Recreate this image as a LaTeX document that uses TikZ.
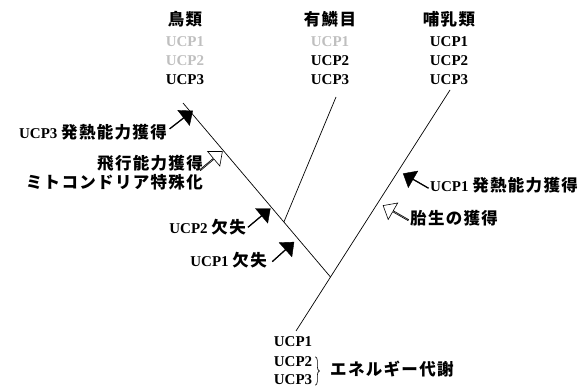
\documentclass[tikz,border=0pt]{standalone}
\usepackage{fontspec}
\setmainfont{Liberation Serif}
\newfontfamily\jpf{Noto Sans CJK JP}[LetterSpace=8]
\newcommand\Jtxt[1]{{\jpf\bfseries\fontsize{16.5}{16.5}\selectfont #1}}
\usetikzlibrary{shapes.arrows,decorations.pathreplacing,calc}
\begin{document}
\begin{tikzpicture}[x=1pt,y=-1pt,
  lbl/.style={font=\fontsize{15}{15}\selectfont\bfseries, inner sep=0pt},
  ghost/.style={lbl, text=black!25},
  jp/.style={font=\jpf\bfseries\fontsize{16.5}{16.5}\selectfont, inner sep=0pt},
  branch/.style={line width=0.7pt},
  solidarr/.style={single arrow, fill=black, draw=black, minimum height=29pt, minimum width=19pt, single arrow head extend=4.5pt, single arrow tip angle=80, inner sep=0pt},
  openarr/.style={solidarr, fill=white, line width=0.6pt}]
\useasboundingbox (0,0) rectangle (588,387);

% column headers
\node[jp] (bird) at (185,19) {鳥類};
\node[ghost] (b1) at (185,42) {UCP1};
\node[ghost] (b2) at (185,61) {UCP2};
\node[lbl] (b3) at (185,80) {UCP3};

\node[jp] (squa) at (330,19) {有鱗目};
\node[ghost] (s1) at (330,42) {UCP1};
\node[lbl] (s2) at (330,61) {UCP2};
\node[lbl] (s3) at (330,80) {UCP3};

\node[jp] (mamm) at (449,19) {哺乳類};
\node[lbl] (m1) at (449,42) {UCP1};
\node[lbl] (m2) at (449,61) {UCP2};
\node[lbl] (m3) at (449,80) {UCP3};

% tree
\coordinate (btop) at (183,103);
\coordinate (stop) at (336,97);
\coordinate (mtop) at (450,90);
\coordinate (root) at (296,331);
\coordinate (J1) at ($(mtop)!0.776!(root)$);
\coordinate (J2) at ($(btop)!0.684!(J1)$);
\draw[branch] (mtop) -- (root);
\draw[branch] (btop) -- (J1);
\draw[branch] (stop) -- (J2);

% events on bird lineage
\node[solidarr, rotate=38] (a3) at (181,120) {};
\node[lbl, anchor=east] (t3) at (167,132) {UCP3 \Jtxt{発熱能力獲得}};
\node[openarr, rotate=40] (af) at (211,161) {};
\node[jp, anchor=east] (tf) at (203,163) {飛行能力獲得};
\node[jp, anchor=east] (tm) at (203,182) {ミトコンドリア特殊化};
\node[solidarr, rotate=40] (a2) at (259,218) {};
\node[lbl, anchor=east] (t2) at (246,227) {UCP2 \Jtxt{欠失}};
\node[solidarr, rotate=42] (a1) at (283,252) {};
\node[lbl, anchor=east] (t1) at (267,260) {UCP1 \Jtxt{欠失}};

% events on mammal lineage
\node[solidarr, rotate=150] (am) at (416,181) {};
\node[lbl, anchor=west] (tm1) at (430,185) {UCP1 \Jtxt{発熱能力獲得}};
\node[openarr, rotate=150] (av) at (396,213) {};
\node[jp, anchor=west] (tv) at (410,218) {胎生の獲得};

% root
\node[lbl] (r1) at (293,342) {UCP1};
\node[lbl] (r2) at (293,362) {UCP2};
\node[lbl] (r3) at (293,380) {UCP3};
\draw[line width=0.6pt, decorate, decoration={brace, amplitude=4pt}]
  ($(r2.north east)+(3,0)$) -- ($(r3.south east)+(3,0)$);
\node[jp, anchor=west] (te) at (330,369) {エネルギー代謝};
\end{tikzpicture}
\end{document}
